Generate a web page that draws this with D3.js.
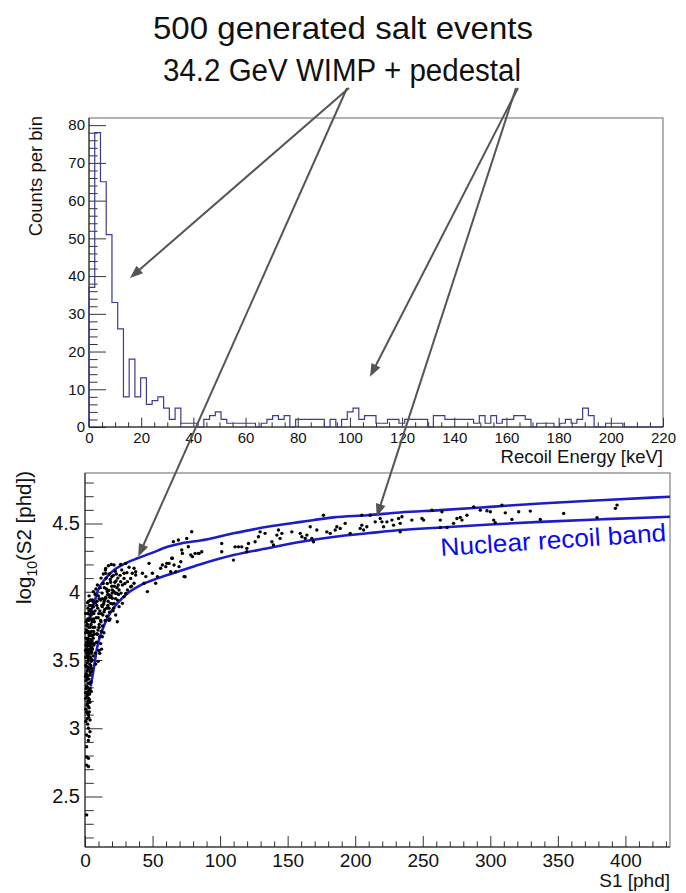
<!DOCTYPE html>
<html><head><meta charset="utf-8">
<script src="https://cdn.jsdelivr.net/npm/d3@7"></script>
<style>
body{margin:0;background:#fff}
svg{display:block}
text{font-family:"Liberation Sans",Arial,Helvetica,sans-serif;fill:#111}
</style>
</head><body>
<svg id="c" width="686" height="893"></svg>
<script>
// ---------------- data ----------------
const titleLines = ["500 generated salt events", "34.2 GeV WIMP + pedestal"];

// histogram: 100 bins of 2.2 keV from 0 to 220 keV
const binWidth = 2.2;
const counts = [
  37,78,65,51,33,26,8,18,8,13,
  6,7,8,5,2,5,1,1,1,0,
  2,3,4,2,1,1,1,1,1,0,
  1,2,3,2,3,0,2,2,2,2,
  2,0,2,0,2,4,5,2,3,3,
  1,1,2,2,1,2,2,2,2,0,
  3,3,2,2,2,2,2,1,3,1,
  3,1,2,2,3,3,2,0,1,1,
  1,0,1,2,1,2,5,3,0,0,
  1,1,1,0,0,0,0,0,0,0
];
const histXTickLabels = [0,20,40,60,80,100,120,140,160,180,200,220];
const histYTickLabels = [0,10,20,30,40,50,60,70,80];
const histXTitle = "Recoil Energy [keV]";
const histYTitle = "Counts per bin";

// S1 / log10(S2) scatter events
const eventsLowS1 = [
  [0.6,3.22],[1.2,3.31],[0.9,3.40],[1.8,3.18],[2.4,3.27],[1.5,3.36],[2.9,3.44],[0.7,3.52],[2.1,3.49],[3.3,3.33],
  [1.1,3.58],[2.6,3.61],[3.8,3.52],[0.8,3.66],[1.9,3.70],[3.1,3.68],[4.2,3.60],[1.4,3.75],[2.7,3.79],[3.6,3.74],
  [0.5,3.84],[2.2,3.88],[3.9,3.83],[4.8,3.71],[5.3,3.64],[1.0,3.45],[1.7,3.53],[2.3,3.57],[3.0,3.55],[3.5,3.47],
  [4.0,3.41],[4.6,3.49],[5.0,3.56],[5.6,3.58],[6.1,3.66],[0.9,3.29],[1.6,3.24],[2.0,3.38],[2.8,3.36],[3.4,3.25],
  [3.7,3.39],[4.4,3.34],[1.3,3.63],[1.9,3.65],[2.5,3.71],[3.2,3.62],[4.1,3.68],[4.7,3.62],[5.2,3.78],[5.8,3.74],
  [6.4,3.80],[1.1,3.72],[2.0,3.80],[2.9,3.86],[3.4,3.90],[4.3,3.87],[4.9,3.80],[0.7,3.61],[1.5,3.48],[2.6,3.43],
  [3.9,3.57],[4.5,3.55],[5.4,3.50],[2.2,3.20],[3.0,3.15],[1.2,3.12],[2.7,3.08],[3.6,3.19],[4.6,3.27],[5.1,3.42],
  [6.0,3.53],[6.6,3.61],[7.0,3.69],[6.9,3.78],[7.4,3.86],[1.6,3.42],[2.4,3.51],[3.3,3.58],[3.9,3.64],[2.1,3.63],
  [1.3,3.55],[0.6,3.46],[0.8,3.35],[1.8,3.30],[2.6,3.22],[3.8,3.29],[4.3,3.46],[5.7,3.68],[6.3,3.71],[2.9,3.74],
  [3.6,3.80],[4.4,3.76],[1.7,3.84],[5.5,3.85],[6.2,3.89],[0.4,3.57],[0.5,3.70],[1.4,3.17],[2.3,3.33],[3.1,3.28],
  [0.4,3.38],[1.0,3.52],[1.6,3.60],[2.3,3.66],[3.4,3.69],[4.1,3.51],[4.8,3.44],[5.9,3.62],[0.9,3.78],[1.9,3.92],
  [2.5,3.16],[3.3,3.21],[1.9,3.45],[2.8,3.53],[3.5,3.63],[4.5,3.65],[5.0,3.68],[5.6,3.94],[4.2,3.94],[3.0,3.97],
  [0.5,3.26],[1.4,3.26],[2.9,3.25],[0.7,3.14],[1.9,3.11],[3.2,3.12],[0.6,3.05],[1.5,3.07],[2.2,3.43],[1.2,3.39],
  [3.7,3.44],[4.9,3.59],[1.8,3.76],[2.4,3.84],[3.2,3.80],[3.8,3.70],[4.6,3.83],[5.3,3.90],[6.7,3.92],[2.7,3.93],
  [1.2,3.12],[2.5,3.10],[3.7,3.06],[2.5,3.00],[3.7,2.975],[1.2,2.95],[2.5,2.91],[1.2,2.865],[3.0,2.94],[2.0,3.03],
  [1.2,2.79],[2.5,2.78],[1.2,2.73],[2.5,2.72],[1.2,2.365]
];
const eventsMidS1 = [
  [6.5,3.84],[7.2,3.74],[7.8,3.92],[8.3,3.81],[8.8,3.69],[9.4,3.88],[9.9,3.97],[10.5,3.76],[11.0,3.86],[11.6,3.94],
  [12.1,3.71],[12.7,3.99],[13.2,3.83],[13.8,3.91],[14.3,4.03],[14.9,3.79],[15.4,3.96],[16.0,3.88],[16.5,4.06],[17.1,3.93],
  [17.6,4.01],[18.2,3.85],[18.7,4.09],[19.3,3.97],[19.8,4.04],[20.4,3.91],[21.0,4.12],[21.5,4.00],[22.1,4.07],[22.6,3.95],
  [23.2,4.13],[23.7,4.03],[24.3,4.10],[24.8,3.98],[7.5,3.98],[8.1,4.02],[9.0,3.93],[10.2,3.84],[11.3,4.03],[12.4,3.90],
  [13.5,4.06],[14.6,3.87],[15.7,4.10],[16.8,3.98],[17.9,4.13],[19.0,4.07],[20.1,3.99],[21.2,3.88],[22.4,4.15],[23.5,3.99],
  [6.8,3.62],[7.6,3.55],[8.5,3.63],[9.6,3.72],[10.8,3.67],[11.8,3.78],[13.0,3.75],[14.0,3.70],[16.2,3.82],[18.5,3.80],
  [20.8,3.86],[5.8,3.93],[6.2,4.00],[9.2,4.05],[11.9,4.10],[13.6,4.13],[15.1,4.16],[17.3,4.19],[19.5,4.20],[12.3,3.58],
  [10.9,3.55],[9.7,3.49],[7.9,3.47],[22.7,3.83],[23.9,3.78],[17.8,3.79],[11.6,3.79],[10.4,3.74],[9.1,3.69],[12.8,3.67],
  [11.6,3.62],[10.4,3.57],[15.3,4.171],[15.3,4.135],[21.5,4.196],[26.4,4.20],
  [8.7,3.90],[9.8,3.81],[10.6,3.95],[12.0,3.84],[12.9,3.95],[14.4,3.94],[15.9,4.02],[16.9,3.90],[18.4,3.96],[19.9,4.11],
  [21.8,4.04],[23.0,4.08],[24.6,4.05],[26.0,4.12],[27.2,4.16],[29.5,4.06],[31.0,4.14],[32.6,4.18],[34.4,4.04],[26.7,3.99],
  [28.9,4.135],[30.1,4.208],[35.0,4.135],[36.3,4.172],[37.5,4.147],[28.9,4.098],[26.4,4.074],[27.7,4.05],[31.4,4.074],[33.8,4.098],
  [25.2,4.013],[22.7,3.988],[20.2,4.013],[17.8,3.976],[16.5,4.001],[15.3,3.952],[14.1,3.927],[12.8,3.891],[14.1,3.854],[17.8,3.879],
  [19.0,3.915],[20.2,3.952],[21.5,3.915],[24.0,3.939],[25.2,3.891],[27.7,3.915],[28.9,3.964],[30.1,3.988],[31.4,4.013],[33.8,4.037],
  [36.3,4.062],[37.5,4.123],[42.5,4.135],[43.7,4.062],[45.0,4.111],[46.2,4.001],[47.4,4.208],[49.9,4.135],[52.3,4.062],[53.6,4.111],
  [56.0,4.172],[57.3,4.196],[59.8,4.184],[62.2,4.208],[63.4,4.147],[64.7,4.245],[65.9,4.196],[67.2,4.147],[69.6,4.184],[70.9,4.22],
  [72.1,4.281],[73.3,4.111],[78.3,4.269],[79.5,4.257],[84.4,4.281],
  [60.5,4.208],[64.2,4.245],[65.4,4.367],[69.1,4.379],[71.6,4.306],[74.1,4.110],[75.3,4.391],[76.5,4.33],[79.0,4.44],[81.5,4.281],
  [83.9,4.281]
];
const eventsHighS1 = [
  [86.4,4.293],[101.2,4.354],[101.2,4.293],[109.9,4.232],[111.1,4.329],[113.6,4.329],[116.0,4.329],[119.8,4.318],[121.0,4.354],[119.8,4.293],
  [125.9,4.366],[128.4,4.403],[129.6,4.439],[133.3,4.428],[138.3,4.366],[139.5,4.342],[142.0,4.415],[143.2,4.452],[144.4,4.391],[145.7,4.428],
  [153.1,4.439],[159.3,4.428],[160.5,4.403],[163.0,4.391],[164.2,4.415],[167.9,4.391],[169.1,4.366],[171.6,4.452],[166.7,4.476],[176.5,4.561],
  [179.0,4.439],[181.5,4.428],[185.2,4.452],[186.4,4.476],[188.9,4.464],[192.6,4.501],[196.3,4.428],[203.7,4.464],[204.9,4.488],[206.2,4.452],
  [208.6,4.476],[211.1,4.561],[204.9,4.561],[214.8,4.512],[218.5,4.537],[219.8,4.512],[221.0,4.476],[223.5,4.512],[227.2,4.525],[228.4,4.488],
  [233.3,4.501],[232.1,4.537],[234.6,4.549],[233.3,4.439],[241.9,4.525],[249.4,4.537],[250.6,4.525],[256.8,4.598],[263.0,4.525],
  [264.2,4.586],[263.0,4.471],[268.0,4.471],[272.8,4.501],[275.3,4.537],[277.8,4.545],[279.0,4.525],[282.7,4.561],[287.7,4.622],[292.6,4.598],
  [297.5,4.593],[300.0,4.586],[302.5,4.525],[303.7,4.505],[308.6,4.635],[311.1,4.578],[316.0,4.530],[321.0,4.586],[329.6,4.591],[337.0,4.530],
  [354.3,4.574],[379.0,4.542],[392.6,4.611],[393.8,4.635]
];

// nuclear recoil band edges [S1, log10 S2]
const bandUpper = [[3.0,3.79],[4.5,3.86],[6.7,3.915],[9.6,4.01],[15.3,4.098],[21.5,4.159],[28.9,4.203],[38.8,4.245],[48.6,4.281],
  [61,4.329],[73.3,4.359],[85.5,4.375],[110,4.428],[135,4.476],[160,4.512],[184,4.545],[209,4.561],[233,4.581],[263,4.598],
  [300,4.622],[337,4.647],[385,4.672],[433,4.696]];
const bandLower = [[4.2,3.305],[5.5,3.38],[6.7,3.451],[9.1,3.597],[12.8,3.72],[17.8,3.83],[23.9,3.915],[31.4,3.988],[41.2,4.049],
  [53.6,4.098],[68.4,4.146],[85,4.2],[110,4.269],[135,4.318],[160,4.366],[185,4.403],[209,4.428],[233,4.452],[263,4.471],
  [300,4.493],[337,4.512],[385,4.532],[433,4.549]];
const bandLabel = "Nuclear recoil band";
const scatXTickLabels = [0,50,100,150,200,250,300,350,400];
const scatYTickLabels = [2.5,3,3.5,4,4.5];
const scatXTitle = "S1 [phd]";

// ---------------- drawing ----------------
const svg = d3.select("#c");
const FONT = '"Liberation Sans",Arial,Helvetica,sans-serif';

svg.append("rect").attr("width",686).attr("height",893).attr("fill","#fff");

// top histogram
const H = {l:89, r:663, t:118, b:427};
const xH = d3.scaleLinear().domain([0,220]).range([H.l,H.r]);
const yH = d3.scaleLinear().domain([0,81.9]).range([H.b,H.t]);

// bottom scatter
const S = {l:85, r:670, t:473, b:847};
const xS = d3.scaleLinear().domain([0,433]).range([S.l,S.r]);
const yS = d3.scaleLinear().domain([2.13,4.87]).range([S.b,S.t]);

function frame(p){
  svg.append("rect").attr("x",p.l).attr("y",p.t).attr("width",p.r-p.l).attr("height",p.b-p.t)
    .attr("fill","none").attr("stroke","#666").attr("stroke-width",1);
}
frame(H); frame(S);

function styleAxis(g, fs){
  g.select(".domain").remove();
  g.selectAll(".tick line").attr("stroke","#333").attr("stroke-width",1);
  g.selectAll("text").attr("font-family",FONT).attr("font-size",fs).attr("fill","#111");
}

// histogram axes
const gHx = svg.append("g").attr("transform",`translate(0,${H.b})`)
  .call(d3.axisBottom(xH).tickValues(histXTickLabels).tickSize(-9.3).tickPadding(5.3).tickFormat(d3.format("d")));
styleAxis(gHx,15);
const gHxm = svg.append("g").attr("transform",`translate(0,${H.b})`)
  .call(d3.axisBottom(xH).tickValues(d3.range(0,221,5).filter(v=>v%20)).tickSize(-4.7).tickFormat(""));
styleAxis(gHxm,15);
const gHy = svg.append("g").attr("transform",`translate(${H.l},0)`)
  .call(d3.axisLeft(yH).tickValues(histYTickLabels).tickSize(-17).tickPadding(4).tickFormat(d3.format("d")));
styleAxis(gHy,15);
const gHym = svg.append("g").attr("transform",`translate(${H.l},0)`)
  .call(d3.axisLeft(yH).tickValues(d3.range(0,81,2).filter(v=>v%10)).tickSize(-8.6).tickFormat(""));
styleAxis(gHym,15);
svg.append("line").attr("x1",H.l).attr("x2",H.r).attr("y1",H.b).attr("y2",H.b).attr("stroke","#222");
svg.append("line").attr("x1",H.l).attr("x2",H.l).attr("y1",H.t).attr("y2",H.b).attr("stroke","#222");

// histogram outline
const pts = [[xH(0), yH(0)]];
counts.forEach((c,i)=>{
  pts.push([xH(i*binWidth), yH(c)]);
  pts.push([xH((i+1)*binWidth), yH(c)]);
});
pts.push([xH(counts.length*binWidth), yH(0)]);
svg.append("path").attr("d", d3.line()(pts)).attr("fill","none")
  .attr("stroke","#3c3c90").attr("stroke-width",1.2);

svg.append("text").attr("x",H.r).attr("y",463).attr("text-anchor","end")
  .attr("font-size",18.5).text(histXTitle);
svg.append("text").attr("transform",`translate(42,${H.t-2}) rotate(-90)`).attr("text-anchor","end")
  .attr("font-size",18.5).text(histYTitle);

// scatter axes
const gSx = svg.append("g").attr("transform",`translate(0,${S.b})`)
  .call(d3.axisBottom(xS).tickValues(scatXTickLabels).tickSize(-11).tickPadding(6.5).tickFormat(d3.format("d")));
styleAxis(gSx,19);
const gSxm = svg.append("g").attr("transform",`translate(0,${S.b})`)
  .call(d3.axisBottom(xS).tickValues(d3.range(0,431,10).filter(v=>v%50)).tickSize(-5.6).tickFormat(""));
styleAxis(gSxm,19);
const gSy = svg.append("g").attr("transform",`translate(${S.l},0)`)
  .call(d3.axisLeft(yS).tickValues(scatYTickLabels).tickSize(-17.5).tickPadding(5).tickFormat(d=>String(d)));
styleAxis(gSy,20);
const gSym = svg.append("g").attr("transform",`translate(${S.l},0)`)
  .call(d3.axisLeft(yS).tickValues(d3.range(22,49).map(v=>v/10).filter(v=>Math.round(v*10)%5)).tickSize(-8.8).tickFormat(""));
styleAxis(gSym,20);
svg.append("line").attr("x1",S.l).attr("x2",S.r).attr("y1",S.b).attr("y2",S.b).attr("stroke","#222");
svg.append("line").attr("x1",S.l).attr("x2",S.l).attr("y1",S.t).attr("y2",S.b).attr("stroke","#222");

svg.append("text").attr("x",S.r).attr("y",887).attr("text-anchor","end")
  .attr("font-size",19).text(scatXTitle);
const yt = svg.append("text").attr("transform",`translate(31,${S.t-2}) rotate(-90)`).attr("text-anchor","end")
  .attr("font-size",20.5);
yt.append("tspan").text("log");
yt.append("tspan").attr("font-size",14).attr("dy",6).text("10");
yt.append("tspan").attr("dy",-6).text("(S2 [phd])");

// band curves
const bandLine = d3.line().x(d=>xS(d[0])).y(d=>yS(d[1])).curve(d3.curveMonotoneX);
[bandUpper, bandLower].forEach(b=>{
  svg.append("path").attr("d", bandLine(b)).attr("fill","none")
    .attr("stroke","#1c1cc8").attr("stroke-width",2.6);
});

// events
const events = eventsLowS1.concat(eventsMidS1, eventsHighS1);
svg.append("g").selectAll("circle").data(events).join("circle")
  .attr("cx",d=>xS(d[0])).attr("cy",d=>yS(d[1])).attr("r",1.7).attr("fill","#000");

// band label
svg.append("text").attr("transform","translate(441,556) rotate(-3.8)")
  .attr("font-size",25).attr("textLength",226).attr("lengthAdjust","spacingAndGlyphs")
  .style("fill","#0a0af0").text(bandLabel);

// title
svg.append("text").attr("x",153).attr("y",39).attr("font-size",32)
  .attr("textLength",380).attr("lengthAdjust","spacingAndGlyphs").text(titleLines[0]);
svg.append("text").attr("x",163).attr("y",81).attr("font-size",31)
  .attr("textLength",358).attr("lengthAdjust","spacingAndGlyphs").text(titleLines[1]);

// arrows (targets in data units)
const arrowSpecs = [
  {from:[349,88], to:[xH(15.7), yH(39.5)]},
  {from:[347,88], to:[xS(39.4), yS(4.256)]},
  {from:[518,88], to:[xH(107.7), yH(13.3)]},
  {from:[516,88], to:[xS(215.9), yS(4.549)]}
];
const ag = svg.append("g");
arrowSpecs.forEach(a=>{
  const [x1,y1]=a.from, [x2,y2]=a.to;
  const dx=x2-x1, dy=y2-y1, L=Math.hypot(dx,dy), ux=dx/L, uy=dy/L;
  const hl=13, hw=5;
  const bx=x2-ux*hl, by=y2-uy*hl;
  ag.append("line").attr("x1",x1).attr("y1",y1).attr("x2",bx+ux*2).attr("y2",by+uy*2)
    .attr("stroke","#555").attr("stroke-width",2);
  ag.append("path").attr("d",`M${x2},${y2}L${bx-uy*hw},${by+ux*hw}L${bx+uy*hw},${by-ux*hw}Z`)
    .attr("fill","#555");
});
</script>
</body></html>
